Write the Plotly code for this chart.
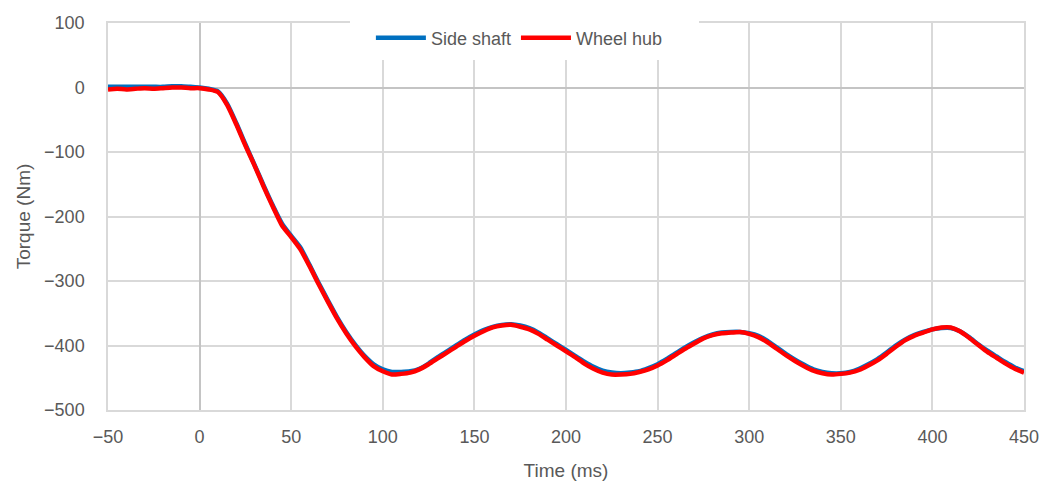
import plotly.graph_objects as go

time_ms = [-50, -45, -40, -35, -30, -25, -20, -15, -10, -5,
           0, 5, 10, 15, 20, 25, 30, 35, 40, 45, 50, 55, 60, 65, 70, 75, 80, 85, 90, 95,
           100, 105, 110, 115, 120, 125, 130, 135, 140, 145, 150, 155, 160, 165, 170, 175, 180, 185, 190, 195,
           200, 205, 210, 215, 220, 225, 230, 235, 240, 245, 250, 255, 260, 265, 270, 275, 280, 285, 290, 295,
           300, 305, 310, 315, 320, 325, 330, 335, 340, 345, 350, 355, 360, 365, 370, 375, 380, 385, 390, 395,
           400, 405, 410, 415, 420, 425, 430, 435, 440, 445, 450]

side_shaft = [1, 1, 1, 1, 1, 1, 1, 2, 2, 1,
              0, -2, -6, -25, -55, -88, -120, -152, -183, -211, -230, -248, -275, -303, -330, -356, -379, -399, -416, -429,
              -437, -441, -441, -440, -436, -428, -418, -409, -400, -391, -383, -376, -371, -368, -367, -369, -373, -380, -389, -398,
              -407, -416, -425, -433, -439, -442, -443, -442, -440, -435, -429, -421, -412, -403, -395, -388, -383, -380, -379, -379,
              -381, -385, -393, -403, -413, -422, -430, -437, -441, -443, -443, -441, -436, -429, -421, -411, -400, -391, -384, -379,
              -375, -373, -373, -378, -387, -398, -408, -417, -426, -434, -440]

wheel_hub = [-3, -2, -3, -2, -1, -2, -1, 0, 0, -1,
             -1, -3, -7, -27, -57, -90, -121, -154, -185, -214, -232, -251, -277, -305, -332, -358, -381, -401, -418, -432,
             -440, -445, -444, -442, -437, -429, -420, -411, -402, -393, -385, -378, -372, -369, -368, -371, -375, -382, -391, -400,
             -409, -418, -428, -436, -442, -445, -445, -444, -441, -437, -431, -423, -414, -405, -397, -389, -384, -381, -380, -379,
             -382, -387, -395, -405, -415, -424, -432, -439, -443, -445, -444, -442, -438, -431, -423, -413, -402, -392, -385, -380,
             -375, -372, -372, -378, -388, -399, -410, -419, -428, -436, -442]

x_ticks = [-50, 0, 50, 100, 150, 200, 250, 300, 350, 400, 450]
y_ticks = [100, 0, -100, -200, -300, -400, -500]

TXT = "#595959"
GRID = "#d9d9d9"
FONT = "Liberation Sans, Arial, sans-serif"

fig = go.Figure()
fig.add_trace(go.Scatter(x=time_ms, y=side_shaft, mode="lines", name="Side shaft",
                         line=dict(color="#0070C0", width=4.5, shape="spline", smoothing=0.6)))
fig.add_trace(go.Scatter(x=time_ms, y=wheel_hub, mode="lines", name="Wheel hub",
                         line=dict(color="#FF0000", width=4.5, shape="spline", smoothing=0.6)))

fig.update_layout(
    width=1052, height=484,
    margin=dict(l=108, r=28, t=23, b=74, autoexpand=False),
    paper_bgcolor="white", plot_bgcolor="white",
    font=dict(family=FONT, size=18, color=TXT),
    showlegend=True,
    legend=dict(orientation="h", x=0.287, xanchor="left", y=0.961, yanchor="middle",
                bgcolor="rgba(0,0,0,0)", font=dict(size=18, color=TXT), itemwidth=50),
    shapes=[dict(type="rect", xref="paper", yref="paper", x0=0.2642, x1=0.6452, y0=0.9044, y1=1.05,
                 fillcolor="white", line=dict(width=0), layer="above")],
)
fig.update_xaxes(range=[-50, 450], tickvals=x_ticks, showgrid=True, gridcolor=GRID, gridwidth=1.5,
                 zeroline=True, zerolinecolor="#c4c4c4", zerolinewidth=1.5,
                 showline=True, linecolor=GRID, linewidth=1.5, mirror=True,
                 ticks="", ticklabelstandoff=10, automargin=False,
                 title=dict(text="Time (ms)", font=dict(size=19, color=TXT), standoff=17))
fig.update_yaxes(range=[-500, 100], tickvals=y_ticks, showgrid=True, gridcolor=GRID, gridwidth=1.5,
                 zeroline=True, zerolinecolor="#c4c4c4", zerolinewidth=1.5,
                 showline=True, linecolor=GRID, linewidth=1.5, mirror=True,
                 ticks="", ticklabelstandoff=18, automargin=False,
                 title=dict(text="Torque (Nm)", font=dict(size=19, color=TXT), standoff=8))

fig.write_html("out.html")
